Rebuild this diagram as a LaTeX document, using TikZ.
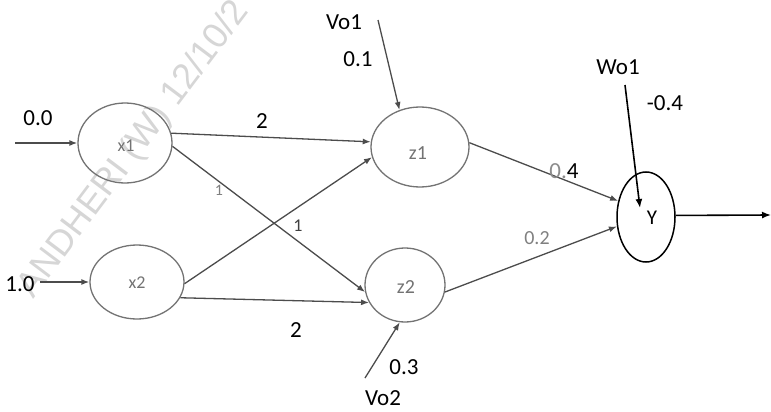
\documentclass[tikz,border=0pt]{standalone}
\usepackage{fontspec}
\setmainfont{Carlito}
\newfontfamily\wmfont{Liberation Sans}
\usetikzlibrary{shapes.geometric,arrows.meta}
\begin{document}
\begin{tikzpicture}[x=1pt,y=-1pt,
  neuron/.style={draw=black!55,line width=1.3pt,ellipse,inner sep=0pt},
  outneuron/.style={draw=black,line width=1.5pt,ellipse,inner sep=0pt},
  nlabel/.style={font=\fontsize{18}{18}\selectfont,text=black!55,inner sep=0pt},
  wlabel/.style={font=\fontsize{23}{23}\selectfont,text=black,inner sep=0pt},
  glabel/.style={font=\fontsize{18}{18}\selectfont,text=black!50,inner sep=0pt},
  link/.style={draw=black!70,line width=1.3pt,-{Latex[length=8pt,width=6pt]}},
  dark/.style={draw=black,line width=1.6pt,-{Latex[length=9pt,width=7pt]}}]
\useasboundingbox (0,0) rectangle (771,412);
\fill[white] (0,0) rectangle (771,412);
\clip (0,0) rectangle (771,412);

% faint stamp across the left part
\node[rotate=53,text=black!16,font=\wmfont\fontsize{36}{36}\selectfont,inner sep=0pt]
  at (134,150) {ANDHERI (W) 12/10/2};

% neurons
\node[neuron,minimum width=94pt,minimum height=80pt] (x1) at (125,143) {};
\node[neuron,minimum width=94pt,minimum height=74pt] (x2) at (137,282) {};
\node[neuron,minimum width=98pt,minimum height=80pt] (z1) at (420,147) {};
\node[neuron,minimum width=80pt,minimum height=74pt] (z2) at (405,285) {};
\node[outneuron,minimum width=58pt,minimum height=90pt] (y) at (646,217) {};

\node[nlabel] (x1t) at (126,146) {x1};
\node[nlabel] (x2t) at (137,283) {x2};
\node[nlabel,font=\fontsize{20}{20}\selectfont] (z1t) at (418,153) {z1};
\node[nlabel,font=\fontsize{20}{20}\selectfont] (z2t) at (406,287) {z2};
\node[font=\fontsize{21}{21}\selectfont,inner sep=0pt] (yt) at (652,218) {Y};

% free ends of the input and bias connectors
\coordinate (in1) at (15,143);
\coordinate (in2) at (40,282);
\coordinate (v1) at (378,20);
\coordinate (v2) at (365,378);
\coordinate (w1) at (625,85);
\coordinate (w1end) at (640,208);
\coordinate (out) at (771,215);

% connectors
\draw[link] (in1) -- (x1.180);
\draw[link] (in2) -- (x2.180);
\draw[link] (x1.12) -- (z1.174);
\draw[link] (x1.-4) -- (z2.190);
\draw[link] (x2.358) -- (z1.192);
\draw[link] (x2.340) -- (z2.206);
\draw[link] (v1) -- (z1.119);
\draw[link] (v2) -- (z2.262);
\draw[link] (z1.5) -- (y.150);
\draw[link] (z2.350) -- (y.198);
\draw[dark] (w1) -- (w1end);
\draw[dark] (y.3) -- (out);

% weights
\node[wlabel] (l00) at (38,118) {0.0};
\node[wlabel] (l10) at (20,284) {1.0};
\node[wlabel] (l2a) at (262,121) {2};
\node[glabel,font=\fontsize{16}{16}\selectfont] (l1a) at (219,190) {1};
\node[glabel,text=black!75] (l1b) at (298,226) {1};
\node[wlabel] (l2b) at (296,330) {2};
\node[wlabel] (lv1) at (344,22) {Vo1};
\node[wlabel] (l01) at (358,59) {0.1};
\node[wlabel] (l03) at (404,367) {0.3};
\node[wlabel] (lv2) at (383,398) {Vo2};
\node[wlabel] (l04) at (564,171) {{\color{black!45}0.}4};
\node[glabel,font=\fontsize{20}{20}\selectfont] (l02) at (537,238) {0.2};
\node[wlabel] (lw1) at (618,67) {Wo1};
\node[wlabel] (lm04) at (665,103) {-0.4};
\end{tikzpicture}
\end{document}
